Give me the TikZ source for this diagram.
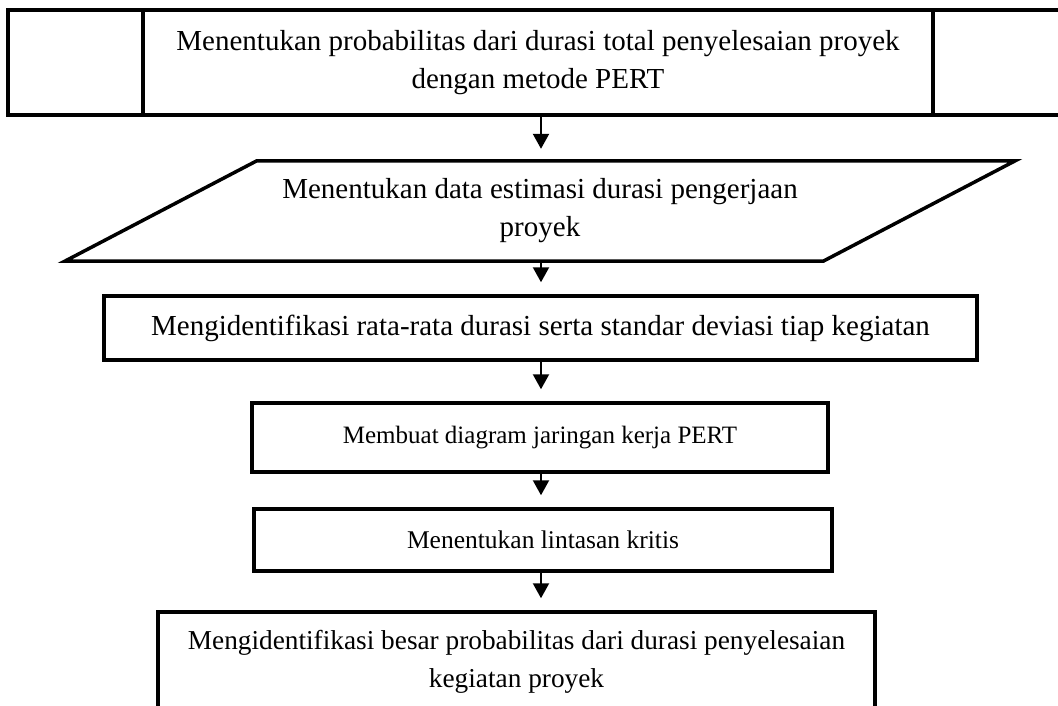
\documentclass[tikz,border=0pt]{standalone}
\usepackage{fontspec}
\setmainfont{Liberation Serif}
\usetikzlibrary{arrows.meta,calc}
\begin{document}
\begin{tikzpicture}[x=1pt,y=-1pt,
  box/.style={draw=black,line width=3.5pt,rectangle,inner sep=0pt,align=center,
    font=\fontsize{29}{38}\selectfont},
  plain/.style={rectangle,inner sep=0pt,align=center,font=\fontsize{29}{38}\selectfont},
  arr/.style={line width=2.2pt,-{Triangle[width=16pt,length=15pt]},shorten >=12pt}]
\useasboundingbox (0,0) rectangle (1058,706);
\clip (0,0) rectangle (1058,706);
\coordinate (axis) at (541,0);
% top box
\node[box,minimum width=135pt,minimum height=105pt] (topL) at (75.5,62.5) {};
\node[box,minimum width=790pt,minimum height=105pt] (top) at (538,62.5)
  {Menentukan probabilitas dari durasi total penyelesaian proyek\\dengan metode PERT};
\node[box,minimum width=150pt,minimum height=105pt] (topR) at (1008,62.5) {};
% parallelogram
\node[plain,minimum width=950pt,minimum height=100pt] (para) at (540,211)
  {Menentukan data estimasi durasi pengerjaan\\proyek};
\draw[line width=3.5pt,line join=miter]
  ($(para.north west)+(192,0)$) -- (para.north east) -- ($(para.south east)-(192,0)$)
  -- (para.south west) -- cycle;
% boxes
\node[box,minimum width=873pt,minimum height=64pt] (b3) at (540.5,328)
  {Mengidentifikasi rata-rata durasi serta standar deviasi tiap kegiatan};
\node[box,minimum width=576pt,minimum height=69pt,font=\fontsize{25}{36}\selectfont] (b4) at (540,437.5)
  {Membuat diagram jaringan kerja PERT};
\node[box,minimum width=578pt,minimum height=62pt,font=\fontsize{25.5}{36}\selectfont] (b5) at (543,540)
  {Menentukan lintasan kritis};
\node[box,minimum width=717pt,minimum height=100pt,font=\fontsize{27.3}{38}\selectfont] (b6) at (516.5,662)
  {Mengidentifikasi besar probabilitas dari durasi penyelesaian\\kegiatan proyek};
% arrows
\draw[arr] (top.south -| axis) -- (para.north -| axis);
\draw[arr] (para.south -| axis) -- (b3.north -| axis);
\draw[arr] (b3.south -| axis) -- (b4.north -| axis);
\draw[arr] (b4.south -| axis) -- (b5.north -| axis);
\draw[arr] (b5.south -| axis) -- (b6.north -| axis);
\end{tikzpicture}
\end{document}
